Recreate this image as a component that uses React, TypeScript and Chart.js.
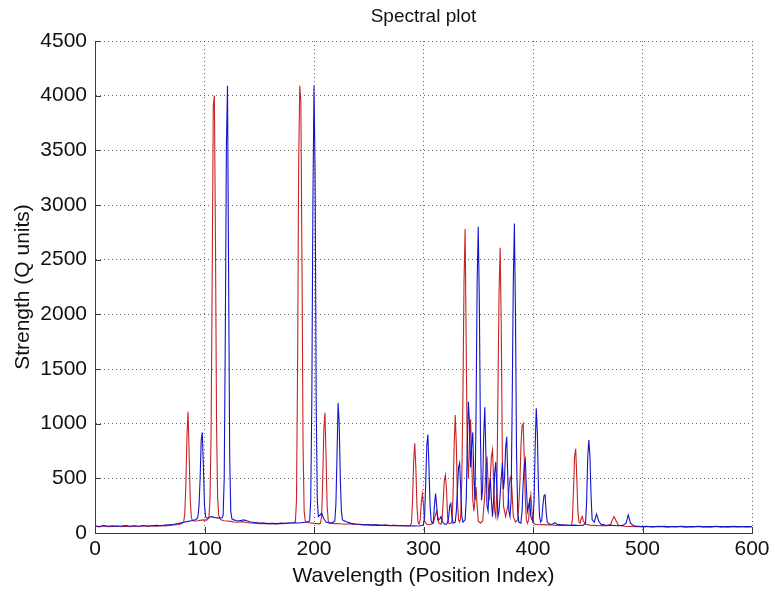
import React, { useEffect, useRef } from "react";
import { Chart, registerables } from "chart.js";

Chart.register(...registerables);

// Spectrum A (red): [position index, strength]
const redSpectrum: [number, number][] = [
  [0, 62], [4, 55], [8, 64], [12, 58], [16, 60], [20, 66], [24, 57], [28, 62], [32, 58], [36, 64],
  [40, 60], [44, 66], [48, 61], [52, 67], [56, 62], [60, 68], [64, 64], [68, 70], [72, 74], [76, 78],
  [79, 84], [81, 100], [82, 180], [83, 450], [84, 900], [85, 1110], [86, 700], [87, 300], [88, 140], [89, 115],
  [91, 110], [94, 112], [97, 118], [100, 120], [102, 118], [104, 140], [105, 300], [106, 900], [107, 2300], [108, 3900],
  [109, 4000], [110, 2700], [111, 1000], [112, 320], [113, 160], [115, 120], [118, 112], [121, 110], [124, 106], [127, 100],
  [130, 98], [134, 104], [138, 96], [142, 92], [146, 90], [150, 86], [154, 88], [158, 84], [162, 86], [166, 82],
  [170, 86], [174, 88], [178, 92], [181, 94], [183, 100], [184, 300], [185, 1500], [186, 3400], [187, 4090], [188, 3950],
  [189, 2500], [190, 800], [191, 200], [192, 110], [194, 96], [197, 92], [200, 88], [203, 86], [205, 84], [206, 90],
  [207, 160], [208, 500], [209, 950], [210, 1100], [211, 700], [212, 250], [213, 110], [214, 90], [217, 88], [220, 86],
  [224, 84], [228, 80], [232, 84], [236, 78], [240, 80], [244, 74], [248, 76], [252, 70], [256, 74], [260, 68],
  [264, 72], [268, 66], [272, 70], [276, 66], [280, 68], [284, 64], [288, 70], [289, 90], [290, 300], [291, 650],
  [292, 820], [293, 600], [294, 250], [295, 100], [296, 80], [297, 120], [298, 280], [299, 360], [300, 250], [301, 110],
  [303, 80], [306, 76], [309, 90], [311, 170], [312, 200], [313, 150], [314, 90], [316, 80], [317, 120], [318, 300],
  [319, 480], [320, 530], [321, 400], [322, 150], [323, 90], [325, 85], [326, 110], [327, 350], [328, 800], [329, 1080],
  [330, 800], [331, 300], [332, 120], [333, 100], [334, 150], [335, 500], [336, 1250], [337, 2300], [338, 2780], [339, 1700],
  [340, 700], [341, 500], [342, 850], [343, 1040], [344, 700], [345, 300], [346, 200], [347, 300], [348, 420], [349, 250],
  [350, 110], [352, 90], [354, 110], [356, 350], [357, 600], [358, 700], [359, 450], [360, 300], [361, 500], [362, 700],
  [363, 760], [364, 500], [365, 200], [366, 150], [367, 400], [368, 1300], [369, 2200], [370, 2610], [371, 1900], [372, 700],
  [373, 250], [375, 150], [377, 250], [378, 400], [379, 500], [380, 520], [381, 350], [382, 150], [384, 100], [386, 120],
  [387, 250], [388, 450], [389, 800], [390, 980], [391, 1000], [392, 700], [393, 300], [394, 120], [395, 90], [396, 120],
  [397, 280], [398, 350], [399, 200], [400, 100], [402, 80], [405, 76], [408, 78], [412, 74], [416, 76], [420, 72],
  [424, 70], [428, 72], [432, 68], [435, 70], [436, 120], [437, 400], [438, 700], [439, 770], [440, 500], [441, 200],
  [442, 100], [443, 90], [444, 130], [445, 150], [446, 110], [448, 80], [452, 72], [456, 70], [460, 66], [464, 68],
  [468, 66], [471, 80], [472, 110], [474, 150], [476, 110], [478, 70], [482, 64], [486, 60], [490, 62], [494, 58],
  [498, 60], [502, 56], [506, 60], [510, 56], [514, 62], [518, 58], [522, 54], [526, 60], [530, 56], [534, 60],
  [538, 54], [542, 58], [546, 56], [550, 60], [554, 55], [558, 58], [562, 54], [566, 60], [570, 56], [574, 58],
  [578, 54], [582, 58], [586, 56], [590, 60], [594, 55], [598, 58], [600, 56],
];

// Spectrum B (blue): [position index, strength]
const blueSpectrum: [number, number][] = [
  [0, 66], [4, 60], [8, 68], [12, 62], [16, 66], [20, 60], [24, 64], [28, 68], [32, 62], [36, 66],
  [40, 62], [44, 68], [48, 64], [52, 66], [56, 70], [60, 66], [64, 72], [68, 76], [72, 80], [76, 86],
  [80, 96], [84, 104], [88, 112], [91, 118], [93, 130], [94, 150], [95, 250], [96, 500], [97, 850], [98, 920],
  [99, 600], [100, 250], [101, 150], [102, 135], [104, 140], [106, 150], [108, 145], [110, 140], [112, 138], [114, 136],
  [116, 140], [117, 160], [118, 500], [119, 1800], [120, 3540], [121, 4090], [122, 2400], [123, 700], [124, 200], [125, 130],
  [127, 120], [130, 110], [133, 115], [136, 120], [139, 110], [142, 100], [146, 96], [150, 92], [154, 90], [158, 86],
  [162, 88], [166, 86], [170, 90], [174, 88], [178, 92], [182, 94], [186, 92], [190, 96], [194, 100], [196, 110],
  [197, 300], [198, 1200], [199, 3000], [200, 4090], [201, 3300], [202, 1200], [203, 300], [204, 150], [205, 160], [207, 180],
  [209, 130], [211, 100], [214, 92], [217, 96], [219, 110], [220, 260], [221, 700], [222, 1190], [223, 1000], [224, 500],
  [225, 200], [226, 120], [228, 110], [230, 100], [234, 88], [238, 82], [242, 80], [246, 76], [250, 78], [254, 72],
  [258, 74], [262, 70], [266, 72], [270, 68], [274, 70], [278, 66], [282, 68], [286, 64], [290, 66], [294, 64],
  [297, 66], [299, 70], [300, 80], [301, 150], [302, 450], [303, 800], [304, 900], [305, 600], [306, 250], [307, 110],
  [308, 90], [309, 110], [310, 250], [311, 360], [312, 250], [313, 120], [315, 130], [316, 150], [317, 110], [319, 80],
  [321, 80], [322, 100], [323, 150], [324, 250], [325, 270], [326, 150], [327, 90], [329, 100], [330, 200], [331, 400],
  [332, 600], [333, 640], [334, 400], [335, 150], [336, 100], [338, 120], [339, 300], [340, 800], [341, 1200], [342, 1000],
  [343, 600], [344, 800], [345, 920], [346, 500], [347, 300], [348, 1100], [349, 2300], [350, 2800], [351, 2100], [352, 900],
  [353, 300], [354, 400], [355, 900], [356, 1150], [357, 700], [358, 250], [359, 200], [360, 400], [361, 500], [362, 300],
  [363, 150], [364, 300], [365, 550], [366, 650], [367, 400], [368, 150], [369, 200], [370, 350], [371, 500], [372, 640],
  [373, 400], [374, 500], [375, 780], [376, 880], [377, 500], [378, 200], [379, 150], [380, 300], [381, 1200], [382, 2300],
  [383, 2830], [384, 2000], [385, 700], [386, 200], [387, 100], [389, 90], [390, 200], [391, 450], [392, 620], [393, 670],
  [394, 400], [395, 200], [396, 250], [397, 300], [398, 150], [400, 100], [401, 300], [402, 800], [403, 1140], [404, 900],
  [405, 400], [406, 150], [407, 100], [408, 120], [409, 250], [410, 340], [411, 350], [412, 200], [413, 100], [415, 80],
  [418, 82], [420, 95], [422, 80], [426, 74], [430, 72], [434, 70], [438, 72], [442, 68], [446, 72], [448, 90],
  [449, 300], [450, 700], [451, 850], [452, 700], [453, 350], [454, 120], [456, 100], [458, 175], [460, 110], [462, 80],
  [466, 72], [470, 70], [474, 68], [478, 66], [482, 70], [485, 90], [487, 165], [489, 90], [492, 66], [496, 62],
  [500, 58], [504, 62], [508, 56], [512, 60], [516, 58], [520, 62], [524, 56], [528, 60], [532, 58], [536, 62],
  [540, 56], [544, 60], [548, 58], [552, 62], [556, 56], [560, 60], [564, 58], [568, 62], [572, 56], [576, 60],
  [580, 58], [584, 62], [588, 56], [592, 60], [596, 58], [600, 60],
];

const xTickValues = [0, 100, 200, 300, 400, 500, 600];
const yTickValues = [0, 500, 1000, 1500, 2000, 2500, 3000, 3500, 4000, 4500];
const chartTitle = "Spectral plot";

const FONT = "'Liberation Sans', Arial, Helvetica, sans-serif";
const AXIS_COLOR = "#3a3a3a";
const GRID_COLOR = "rgba(0,0,0,0.6)";

// Title centred over the plotting area, plus short tick marks on the inside
// of the left and bottom axes
const axesDecor = {
  id: "axesDecor",
  afterDatasetsDraw(chart: any) {
    const { ctx, chartArea, scales } = chart;
    const xs = scales.x;
    const ys = scales.y;
    ctx.save();
    ctx.strokeStyle = AXIS_COLOR;
    ctx.lineWidth = 1;
    ctx.setLineDash([]);
    xs.ticks.forEach((t: any) => {
      const px = Math.round(xs.getPixelForValue(t.value)) + 0.5;
      ctx.beginPath();
      ctx.moveTo(px, chartArea.bottom);
      ctx.lineTo(px, chartArea.bottom - 6);
      ctx.stroke();
    });
    ys.ticks.forEach((t: any) => {
      const py = Math.round(ys.getPixelForValue(t.value)) + 0.5;
      ctx.beginPath();
      ctx.moveTo(chartArea.left, py);
      ctx.lineTo(chartArea.left + 6, py);
      ctx.stroke();
    });
    ctx.fillStyle = "#111";
    ctx.font = `19px ${FONT}`;
    ctx.textAlign = "center";
    ctx.textBaseline = "middle";
    ctx.fillText(chartTitle, (chartArea.left + chartArea.right) / 2, 17);
    ctx.restore();
  },
};

const plainNumber = (v: any) => String(v);

export default function App() {
  const canvasRef = useRef<HTMLCanvasElement | null>(null);

  useEffect(() => {
    if (!canvasRef.current) return;
    const toPoints = (s: [number, number][]) => s.map(([x, y]) => ({ x, y }));

    const chart = new Chart(canvasRef.current, {
      type: "line",
      data: {
        datasets: [
          {
            label: "B",
            data: toPoints(blueSpectrum),
            borderColor: "rgb(20,20,205)",
            borderWidth: 1.1,
            pointRadius: 0,
            tension: 0,
            fill: false,
            order: 0,
          },
          {
            label: "A",
            data: toPoints(redSpectrum),
            borderColor: "rgb(200,35,35)",
            borderWidth: 1.1,
            pointRadius: 0,
            tension: 0,
            fill: false,
            order: 1,
          },
        ],
      },
      options: {
        responsive: false,
        devicePixelRatio: 1,
        animation: false,
        layout: { padding: { left: 0, right: 28, top: 41, bottom: 0 } },
        plugins: {
          legend: { display: false },
          tooltip: { enabled: false },
          title: { display: false },
        },
        scales: {
          x: {
            type: "linear",
            min: 0,
            max: 600,
            afterFit: (scale: any) => {
              scale.height = 57;
            },
            afterBuildTicks: (scale: any) => {
              scale.ticks = xTickValues.map((v) => ({ value: v }));
            },
            ticks: {
              color: "#111",
              font: { family: FONT, size: 21 },
              padding: 4,
              maxRotation: 0,
              autoSkip: false,
              callback: plainNumber,
            },
            grid: { color: GRID_COLOR, lineWidth: 1, drawTicks: false },
            border: { display: true, color: AXIS_COLOR, width: 1, dash: [1, 3] },
            title: {
              display: true,
              text: "Wavelength (Position Index)",
              color: "#111",
              font: { family: FONT, size: 21, lineHeight: 1.2 },
              padding: { top: 0, bottom: 1 },
            },
          },
          y: {
            type: "linear",
            min: 0,
            max: 4500,
            afterFit: (scale: any) => {
              scale.width = 95;
            },
            afterBuildTicks: (scale: any) => {
              scale.ticks = yTickValues.map((v) => ({ value: v }));
            },
            ticks: {
              color: "#111",
              font: { family: FONT, size: 21 },
              padding: 8,
              autoSkip: false,
              callback: plainNumber,
            },
            grid: { color: GRID_COLOR, lineWidth: 1, drawTicks: false },
            border: { display: true, color: AXIS_COLOR, width: 1, dash: [1, 3] },
            title: {
              display: true,
              text: "Strength (Q units)",
              color: "#111",
              font: { family: FONT, size: 21, lineHeight: 1.2 },
              padding: { top: 11, bottom: 0 },
            },
          },
        },
      },
      plugins: [axesDecor],
    });

    return () => chart.destroy();
  }, []);

  return (
    <div style={{ position: "fixed", left: 0, top: 0, width: 780, height: 590, background: "#fff" }}>
      <canvas ref={canvasRef} width={780} height={590} style={{ display: "block" }} />
    </div>
  );
}
